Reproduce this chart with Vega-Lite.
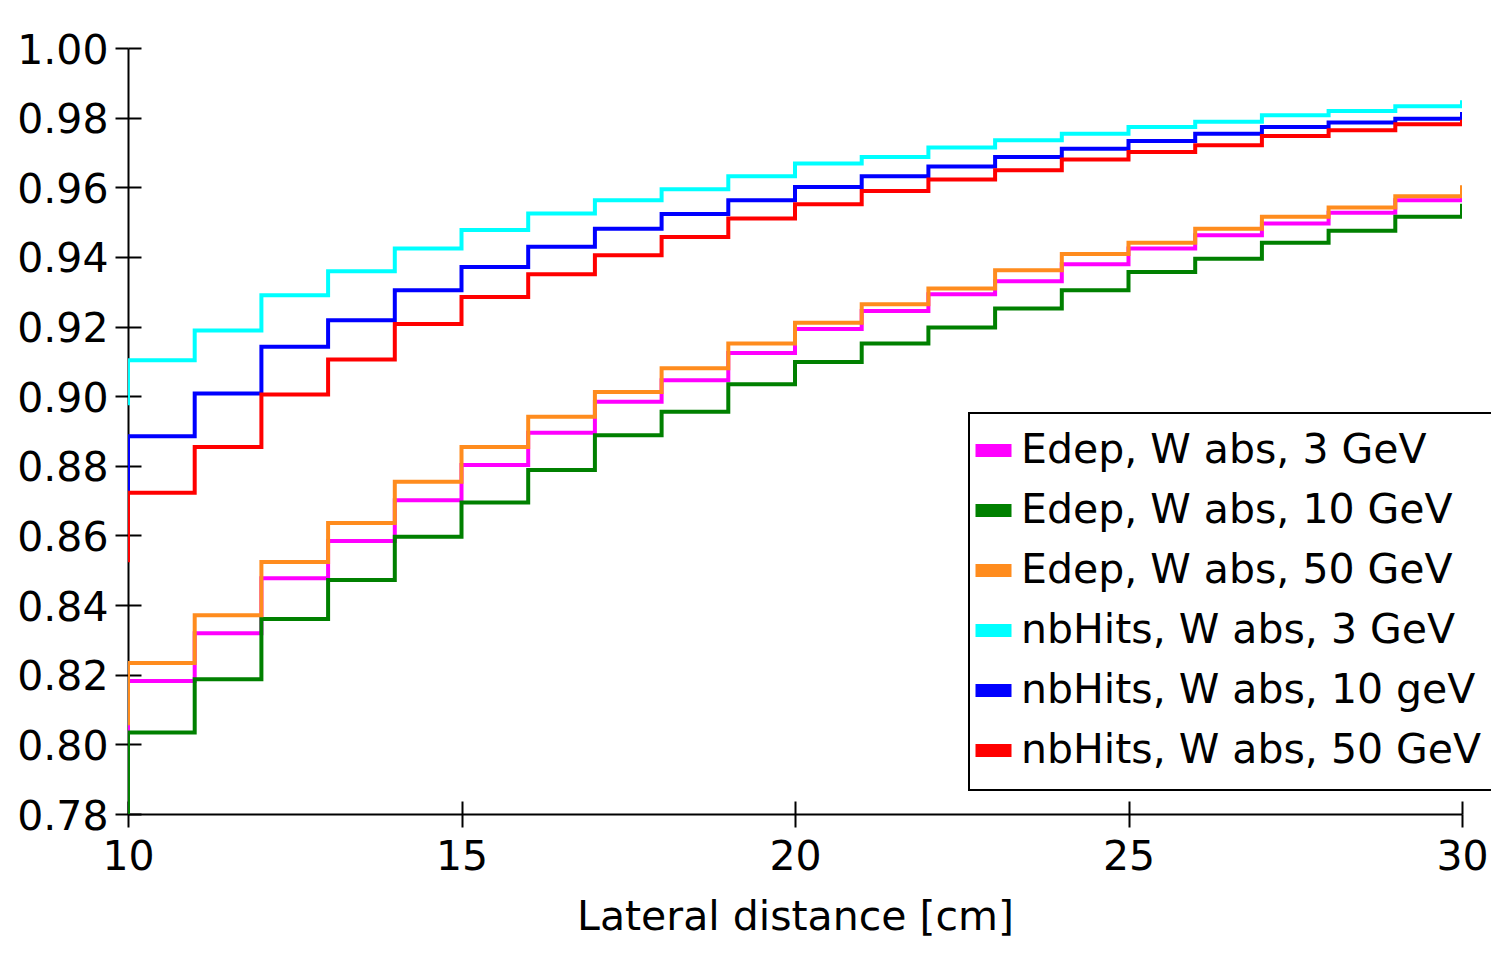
{
  "$schema": "https://vega.github.io/schema/vega-lite/v6.json",
  "width": 1334,
  "height": 766,
  "autosize": {"type": "none"},
  "padding": {"left": 128, "top": 48, "right": 29, "bottom": 140},
  "background": "white",
  "config": {
    "view": {"stroke": null},
    "font": "DejaVu Sans",
    "axis": {
      "grid": false,
      "domainColor": "black",
      "domainWidth": 2,
      "tickColor": "black",
      "tickWidth": 2,
      "labelColor": "black",
      "labelFont": "DejaVu Sans",
      "labelFontSize": 41,
      "labelFlush": false,
      "titleFont": "DejaVu Sans",
      "titleFontSize": 41,
      "titleFontWeight": "normal",
      "titleColor": "black"
    }
  },
  "data": {
    "values": [
      {"s": "Edep, W abs, 3 GeV", "i": 0, "x": 10, "y": 0.803},
      {"s": "Edep, W abs, 3 GeV", "i": 1, "x": 10, "y": 0.8182},
      {"s": "Edep, W abs, 3 GeV", "i": 2, "x": 11, "y": 0.8319},
      {"s": "Edep, W abs, 3 GeV", "i": 3, "x": 12, "y": 0.8477},
      {"s": "Edep, W abs, 3 GeV", "i": 4, "x": 13, "y": 0.8584},
      {"s": "Edep, W abs, 3 GeV", "i": 5, "x": 14, "y": 0.8701},
      {"s": "Edep, W abs, 3 GeV", "i": 6, "x": 15, "y": 0.8802},
      {"s": "Edep, W abs, 3 GeV", "i": 7, "x": 16, "y": 0.8895},
      {"s": "Edep, W abs, 3 GeV", "i": 8, "x": 17, "y": 0.8984},
      {"s": "Edep, W abs, 3 GeV", "i": 9, "x": 18, "y": 0.9046},
      {"s": "Edep, W abs, 3 GeV", "i": 10, "x": 19, "y": 0.9124},
      {"s": "Edep, W abs, 3 GeV", "i": 11, "x": 20, "y": 0.9193},
      {"s": "Edep, W abs, 3 GeV", "i": 12, "x": 21, "y": 0.9245},
      {"s": "Edep, W abs, 3 GeV", "i": 13, "x": 22, "y": 0.9293},
      {"s": "Edep, W abs, 3 GeV", "i": 14, "x": 23, "y": 0.933},
      {"s": "Edep, W abs, 3 GeV", "i": 15, "x": 24, "y": 0.9379},
      {"s": "Edep, W abs, 3 GeV", "i": 16, "x": 25, "y": 0.9424},
      {"s": "Edep, W abs, 3 GeV", "i": 17, "x": 26, "y": 0.9462},
      {"s": "Edep, W abs, 3 GeV", "i": 18, "x": 27, "y": 0.9496},
      {"s": "Edep, W abs, 3 GeV", "i": 19, "x": 28, "y": 0.9527},
      {"s": "Edep, W abs, 3 GeV", "i": 20, "x": 29, "y": 0.9563},
      {"s": "Edep, W abs, 3 GeV", "i": 21, "x": 30, "y": 0.9592},

      {"s": "Edep, W abs, 10 GeV", "i": 0, "x": 10, "y": 0.776},
      {"s": "Edep, W abs, 10 GeV", "i": 1, "x": 10, "y": 0.8034},
      {"s": "Edep, W abs, 10 GeV", "i": 2, "x": 11, "y": 0.8187},
      {"s": "Edep, W abs, 10 GeV", "i": 3, "x": 12, "y": 0.836},
      {"s": "Edep, W abs, 10 GeV", "i": 4, "x": 13, "y": 0.8472},
      {"s": "Edep, W abs, 10 GeV", "i": 5, "x": 14, "y": 0.8596},
      {"s": "Edep, W abs, 10 GeV", "i": 6, "x": 15, "y": 0.8695},
      {"s": "Edep, W abs, 10 GeV", "i": 7, "x": 16, "y": 0.8788},
      {"s": "Edep, W abs, 10 GeV", "i": 8, "x": 17, "y": 0.8888},
      {"s": "Edep, W abs, 10 GeV", "i": 9, "x": 18, "y": 0.8955},
      {"s": "Edep, W abs, 10 GeV", "i": 10, "x": 19, "y": 0.9034},
      {"s": "Edep, W abs, 10 GeV", "i": 11, "x": 20, "y": 0.9098},
      {"s": "Edep, W abs, 10 GeV", "i": 12, "x": 21, "y": 0.9151},
      {"s": "Edep, W abs, 10 GeV", "i": 13, "x": 22, "y": 0.9197},
      {"s": "Edep, W abs, 10 GeV", "i": 14, "x": 23, "y": 0.9252},
      {"s": "Edep, W abs, 10 GeV", "i": 15, "x": 24, "y": 0.9304},
      {"s": "Edep, W abs, 10 GeV", "i": 16, "x": 25, "y": 0.9357},
      {"s": "Edep, W abs, 10 GeV", "i": 17, "x": 26, "y": 0.9395},
      {"s": "Edep, W abs, 10 GeV", "i": 18, "x": 27, "y": 0.9441},
      {"s": "Edep, W abs, 10 GeV", "i": 19, "x": 28, "y": 0.9475},
      {"s": "Edep, W abs, 10 GeV", "i": 20, "x": 29, "y": 0.9515},
      {"s": "Edep, W abs, 10 GeV", "i": 21, "x": 30, "y": 0.9553},

      {"s": "Edep, W abs, 50 GeV", "i": 0, "x": 10, "y": 0.8055},
      {"s": "Edep, W abs, 50 GeV", "i": 1, "x": 10, "y": 0.8234},
      {"s": "Edep, W abs, 50 GeV", "i": 2, "x": 11, "y": 0.8371},
      {"s": "Edep, W abs, 50 GeV", "i": 3, "x": 12, "y": 0.8524},
      {"s": "Edep, W abs, 50 GeV", "i": 4, "x": 13, "y": 0.8636},
      {"s": "Edep, W abs, 50 GeV", "i": 5, "x": 14, "y": 0.8754},
      {"s": "Edep, W abs, 50 GeV", "i": 6, "x": 15, "y": 0.8854},
      {"s": "Edep, W abs, 50 GeV", "i": 7, "x": 16, "y": 0.8941},
      {"s": "Edep, W abs, 50 GeV", "i": 8, "x": 17, "y": 0.9012},
      {"s": "Edep, W abs, 50 GeV", "i": 9, "x": 18, "y": 0.908},
      {"s": "Edep, W abs, 50 GeV", "i": 10, "x": 19, "y": 0.9151},
      {"s": "Edep, W abs, 50 GeV", "i": 11, "x": 20, "y": 0.9211},
      {"s": "Edep, W abs, 50 GeV", "i": 12, "x": 21, "y": 0.9264},
      {"s": "Edep, W abs, 50 GeV", "i": 13, "x": 22, "y": 0.9309},
      {"s": "Edep, W abs, 50 GeV", "i": 14, "x": 23, "y": 0.9362},
      {"s": "Edep, W abs, 50 GeV", "i": 15, "x": 24, "y": 0.9408},
      {"s": "Edep, W abs, 50 GeV", "i": 16, "x": 25, "y": 0.9441},
      {"s": "Edep, W abs, 50 GeV", "i": 17, "x": 26, "y": 0.9481},
      {"s": "Edep, W abs, 50 GeV", "i": 18, "x": 27, "y": 0.9515},
      {"s": "Edep, W abs, 50 GeV", "i": 19, "x": 28, "y": 0.9542},
      {"s": "Edep, W abs, 50 GeV", "i": 20, "x": 29, "y": 0.9574},
      {"s": "Edep, W abs, 50 GeV", "i": 21, "x": 30, "y": 0.9606},

      {"s": "nbHits, W abs, 3 GeV", "i": 0, "x": 10, "y": 0.8974},
      {"s": "nbHits, W abs, 3 GeV", "i": 1, "x": 10, "y": 0.9103},
      {"s": "nbHits, W abs, 3 GeV", "i": 2, "x": 11, "y": 0.9189},
      {"s": "nbHits, W abs, 3 GeV", "i": 3, "x": 12, "y": 0.929},
      {"s": "nbHits, W abs, 3 GeV", "i": 4, "x": 13, "y": 0.9359},
      {"s": "nbHits, W abs, 3 GeV", "i": 5, "x": 14, "y": 0.9424},
      {"s": "nbHits, W abs, 3 GeV", "i": 6, "x": 15, "y": 0.9477},
      {"s": "nbHits, W abs, 3 GeV", "i": 7, "x": 16, "y": 0.9525},
      {"s": "nbHits, W abs, 3 GeV", "i": 8, "x": 17, "y": 0.9563},
      {"s": "nbHits, W abs, 3 GeV", "i": 9, "x": 18, "y": 0.9594},
      {"s": "nbHits, W abs, 3 GeV", "i": 10, "x": 19, "y": 0.9632},
      {"s": "nbHits, W abs, 3 GeV", "i": 11, "x": 20, "y": 0.9668},
      {"s": "nbHits, W abs, 3 GeV", "i": 12, "x": 21, "y": 0.9687},
      {"s": "nbHits, W abs, 3 GeV", "i": 13, "x": 22, "y": 0.9714},
      {"s": "nbHits, W abs, 3 GeV", "i": 14, "x": 23, "y": 0.9735},
      {"s": "nbHits, W abs, 3 GeV", "i": 15, "x": 24, "y": 0.9754},
      {"s": "nbHits, W abs, 3 GeV", "i": 16, "x": 25, "y": 0.9773},
      {"s": "nbHits, W abs, 3 GeV", "i": 17, "x": 26, "y": 0.9788},
      {"s": "nbHits, W abs, 3 GeV", "i": 18, "x": 27, "y": 0.9807},
      {"s": "nbHits, W abs, 3 GeV", "i": 19, "x": 28, "y": 0.9819},
      {"s": "nbHits, W abs, 3 GeV", "i": 20, "x": 29, "y": 0.9833},
      {"s": "nbHits, W abs, 3 GeV", "i": 21, "x": 30, "y": 0.985},

      {"s": "nbHits, W abs, 10 geV", "i": 0, "x": 10, "y": 0.868},
      {"s": "nbHits, W abs, 10 geV", "i": 1, "x": 10, "y": 0.8885},
      {"s": "nbHits, W abs, 10 geV", "i": 2, "x": 11, "y": 0.9008},
      {"s": "nbHits, W abs, 10 geV", "i": 3, "x": 12, "y": 0.9142},
      {"s": "nbHits, W abs, 10 geV", "i": 4, "x": 13, "y": 0.9218},
      {"s": "nbHits, W abs, 10 geV", "i": 5, "x": 14, "y": 0.9304},
      {"s": "nbHits, W abs, 10 geV", "i": 6, "x": 15, "y": 0.9371},
      {"s": "nbHits, W abs, 10 geV", "i": 7, "x": 16, "y": 0.9429},
      {"s": "nbHits, W abs, 10 geV", "i": 8, "x": 17, "y": 0.9481},
      {"s": "nbHits, W abs, 10 geV", "i": 9, "x": 18, "y": 0.9523},
      {"s": "nbHits, W abs, 10 geV", "i": 10, "x": 19, "y": 0.9563},
      {"s": "nbHits, W abs, 10 geV", "i": 11, "x": 20, "y": 0.9601},
      {"s": "nbHits, W abs, 10 geV", "i": 12, "x": 21, "y": 0.9632},
      {"s": "nbHits, W abs, 10 geV", "i": 13, "x": 22, "y": 0.966},
      {"s": "nbHits, W abs, 10 geV", "i": 14, "x": 23, "y": 0.9687},
      {"s": "nbHits, W abs, 10 geV", "i": 15, "x": 24, "y": 0.9711},
      {"s": "nbHits, W abs, 10 geV", "i": 16, "x": 25, "y": 0.9733},
      {"s": "nbHits, W abs, 10 geV", "i": 17, "x": 26, "y": 0.9754},
      {"s": "nbHits, W abs, 10 geV", "i": 18, "x": 27, "y": 0.9773},
      {"s": "nbHits, W abs, 10 geV", "i": 19, "x": 28, "y": 0.9786},
      {"s": "nbHits, W abs, 10 geV", "i": 20, "x": 29, "y": 0.9797},
      {"s": "nbHits, W abs, 10 geV", "i": 21, "x": 30, "y": 0.9816},

      {"s": "nbHits, W abs, 50 GeV", "i": 0, "x": 10, "y": 0.8523},
      {"s": "nbHits, W abs, 50 GeV", "i": 1, "x": 10, "y": 0.8723},
      {"s": "nbHits, W abs, 50 GeV", "i": 2, "x": 11, "y": 0.8854},
      {"s": "nbHits, W abs, 50 GeV", "i": 3, "x": 12, "y": 0.9005},
      {"s": "nbHits, W abs, 50 GeV", "i": 4, "x": 13, "y": 0.9105},
      {"s": "nbHits, W abs, 50 GeV", "i": 5, "x": 14, "y": 0.9207},
      {"s": "nbHits, W abs, 50 GeV", "i": 6, "x": 15, "y": 0.9285},
      {"s": "nbHits, W abs, 50 GeV", "i": 7, "x": 16, "y": 0.935},
      {"s": "nbHits, W abs, 50 GeV", "i": 8, "x": 17, "y": 0.9405},
      {"s": "nbHits, W abs, 50 GeV", "i": 9, "x": 18, "y": 0.9457},
      {"s": "nbHits, W abs, 50 GeV", "i": 10, "x": 19, "y": 0.951},
      {"s": "nbHits, W abs, 50 GeV", "i": 11, "x": 20, "y": 0.9551},
      {"s": "nbHits, W abs, 50 GeV", "i": 12, "x": 21, "y": 0.9589},
      {"s": "nbHits, W abs, 50 GeV", "i": 13, "x": 22, "y": 0.9622},
      {"s": "nbHits, W abs, 50 GeV", "i": 14, "x": 23, "y": 0.9649},
      {"s": "nbHits, W abs, 50 GeV", "i": 15, "x": 24, "y": 0.968},
      {"s": "nbHits, W abs, 50 GeV", "i": 16, "x": 25, "y": 0.9701},
      {"s": "nbHits, W abs, 50 GeV", "i": 17, "x": 26, "y": 0.9721},
      {"s": "nbHits, W abs, 50 GeV", "i": 18, "x": 27, "y": 0.9747},
      {"s": "nbHits, W abs, 50 GeV", "i": 19, "x": 28, "y": 0.9764},
      {"s": "nbHits, W abs, 50 GeV", "i": 20, "x": 29, "y": 0.9781},
      {"s": "nbHits, W abs, 50 GeV", "i": 21, "x": 30, "y": 0.9794}
    ]
  },
  "layer": [
    {
      "mark": {"type": "line", "strokeOpacity": 0},
      "encoding": {
        "x": {
          "field": "x", "type": "quantitative",
          "scale": {"domain": [10, 30], "nice": false, "zero": false},
          "axis": {"orient": "bottom", "domain": false, "labels": false, "title": null, "tickSize": -13, "values": [10, 15, 20, 25, 30]}
        },
        "y": {
          "field": "y", "type": "quantitative",
          "scale": {"domain": [0.78, 1.0], "nice": false, "zero": false},
          "axis": {"orient": "left", "domain": false, "labels": false, "title": null, "tickSize": -13, "values": [0.78, 0.8, 0.82, 0.84, 0.86, 0.88, 0.9, 0.92, 0.94, 0.96, 0.98, 1.0]}
        },
        "detail": {"field": "s"},
        "order": {"field": "i"}
      }
    },
    {
      "mark": {"type": "line", "interpolate": "step-after", "strokeWidth": 4, "clip": true},
      "encoding": {
        "x": {
          "field": "x", "type": "quantitative",
          "scale": {"domain": [10, 30], "nice": false, "zero": false},
          "axis": {"orient": "bottom", "title": "Lateral distance [cm]", "tickSize": 13, "labelPadding": 10, "titlePadding": 20, "values": [10, 15, 20, 25, 30], "format": "d"}
        },
        "y": {
          "field": "y", "type": "quantitative",
          "scale": {"domain": [0.78, 1.0], "nice": false, "zero": false},
          "axis": {"orient": "left", "title": null, "tickSize": 13, "labelPadding": 7, "labelOffset": 3, "values": [0.78, 0.8, 0.82, 0.84, 0.86, 0.88, 0.9, 0.92, 0.94, 0.96, 0.98, 1.0], "format": ".2f"}
        },
        "color": {
          "field": "s", "type": "nominal",
          "scale": {
            "domain": ["Edep, W abs, 3 GeV", "Edep, W abs, 10 GeV", "Edep, W abs, 50 GeV", "nbHits, W abs, 3 GeV", "nbHits, W abs, 10 geV", "nbHits, W abs, 50 GeV"],
            "range": ["#ff00ff", "#008000", "#ff8c1e", "#00ffff", "#0000ff", "#ff0000"]
          },
          "legend": {
            "title": null,
            "orient": "none",
            "legendX": 841,
            "legendY": 365,
            "strokeColor": "black",
            "padding": 13,
            "labelFont": "DejaVu Sans",
            "labelFontSize": 41,
            "labelColor": "black",
            "labelLimit": 0,
            "labelOffset": 3,
            "symbolOffset": -13,
            "rowPadding": 7,
            "symbolType": "stroke",
            "symbolStrokeWidth": 13,
            "symbolSize": 1296,
            "encode": {"legend": {"update": {"strokeWidth": {"value": 2}}}}
          }
        },
        "order": {"field": "i"}
      }
    }
  ],
  "resolve": {"axis": {"x": "independent", "y": "independent"}}
}
